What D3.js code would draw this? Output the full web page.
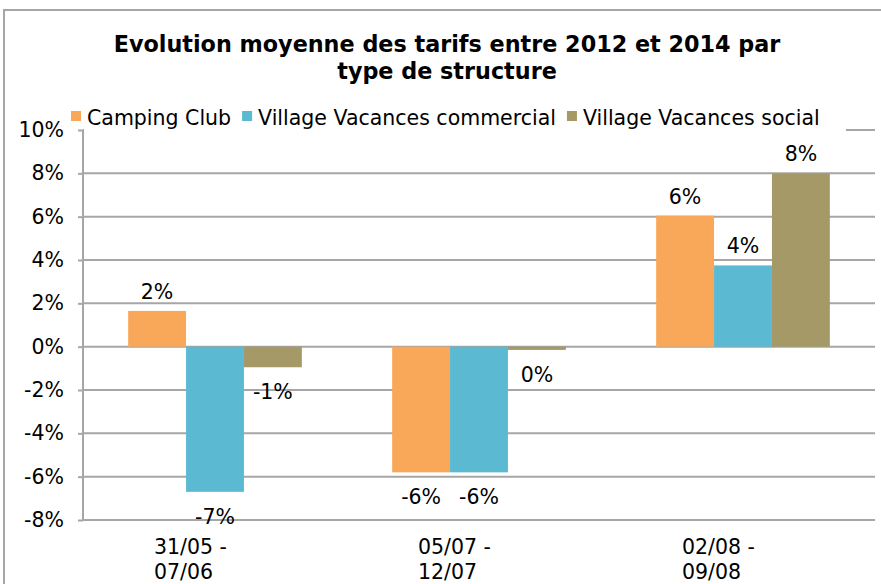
<!DOCTYPE html>
<html>
<head>
<meta charset="utf-8">
<script src="https://cdn.jsdelivr.net/npm/d3@7"></script>
<style>
  body { margin: 0; background: #fff; }
  svg { display: block; font-family: Verdana, "DejaVu Sans", sans-serif; }
</style>
</head>
<body>
<div id="chart"></div>
<script>
// data
const categories = [["31/05 -", "07/06"], ["05/07 -", "12/07"], ["02/08 -", "09/08"]];
const series = ["Camping Club", "Village Vacances commercial", "Village Vacances social"];
const campingClub = [1.65, -5.8, 6.05];
const villageCommercial = [-6.7, -5.8, 3.75];
const villageSocial = [-0.95, -0.15, 8.0];
const colors = ["#F9A85A", "#5BB9D2", "#A59967"];
const yTicks = [-8, -6, -4, -2, 0, 2, 4, 6, 8, 10];
const title = ["Evolution moyenne des tarifs entre 2012 et 2014 par", "type de structure"];

const values = [campingClub, villageCommercial, villageSocial];
const fs = "20.5px";

const W = 881, H = 584;
const svg = d3.select("#chart").append("svg").attr("width", W).attr("height", H);

// outer chart frame (only left/top visible in the crop)
svg.append("path")
  .attr("d", "M4,584V10H881")
  .attr("fill", "none").attr("stroke", "#a6a6a6").attr("stroke-width", 2);

// title
svg.append("text")
  .attr("x", 447).attr("y", 52)
  .attr("text-anchor", "middle")
  .style("font-weight", "bold").style("font-size", "22.3px")
  .selectAll("tspan").data(title).join("tspan")
  .attr("x", 447).attr("dy", (d, i) => i ? 27 : 0)
  .text(d => d);

const x0 = d3.scaleBand()
  .domain(categories.map((d, i) => i))
  .range([83, 875]);
const x1 = d3.scaleBand()
  .domain(series)
  .range([0, x0.bandwidth()])
  .paddingOuter(0.78);
const y = d3.scaleLinear().domain([-8, 10]).range([520, 130]);

// gridlines
svg.append("g").selectAll("line").data(yTicks).join("line")
  .attr("x1", 83).attr("x2", 875)
  .attr("y1", d => y(d)).attr("y2", d => y(d))
  .attr("stroke", "#a6a6a6").attr("stroke-width", 2);

// legend box sits on top of the 10% gridline
svg.append("rect")
  .attr("x", 84).attr("y", 100).attr("width", 762).attr("height", 32)
  .attr("fill", "#fff");

// y axis
const yAxis = svg.append("g")
  .attr("transform", "translate(83,0)")
  .call(d3.axisLeft(y).tickValues(yTicks).tickSize(5).tickPadding(14)
    .tickFormat(d => d + "%"));
yAxis.select(".domain").attr("stroke", "#a6a6a6").attr("stroke-width", 2)
  .attr("d", "M0," + y(10) + "V" + y(-8));
yAxis.selectAll(".tick line").attr("stroke", "#a6a6a6").attr("stroke-width", 2);
yAxis.selectAll(".tick text")
  .style("font-size", fs).attr("fill", "#000")
  .attr("font-family", "Verdana, 'DejaVu Sans', sans-serif");

// bars
const groups = svg.append("g").selectAll("g").data(categories).join("g")
  .attr("transform", (d, i) => "translate(" + x0(i) + ",0)");

groups.each(function (cat, ci) {
  const g = d3.select(this);
  series.forEach((s, si) => {
    const v = values[si][ci];
    g.append("rect")
      .attr("x", x1(s))
      .attr("width", x1.bandwidth())
      .attr("y", y(Math.max(0, v)))
      .attr("height", Math.abs(y(v) - y(0)))
      .attr("fill", colors[si]);
    g.append("text")
      .attr("x", x1(s) + x1.bandwidth() / 2)
      .attr("y", v >= 0 ? y(v) - 12 : y(v) + 32)
      .attr("text-anchor", "middle")
      .style("font-size", fs)
      .text(Math.round(v) === 0 ? "0%" : Math.round(v) + "%");
  });
  // category label, two lines, left aligned
  g.append("text")
    .attr("y", 554)
    .style("font-size", fs)
    .selectAll("tspan").data(cat).join("tspan")
    .attr("x", x0.bandwidth() / 2 - 61)
    .attr("dy", (d, i) => i ? 25 : 0)
    .text(d => d);
});

// legend
let lx = 71;
series.forEach((s, i) => {
  svg.append("rect")
    .attr("x", lx).attr("y", 111).attr("width", 10).attr("height", 10)
    .attr("fill", colors[i]);
  const t = svg.append("text")
    .attr("x", lx + 16).attr("y", 125)
    .style("font-size", fs)
    .text(s);
  lx += 16 + t.node().getComputedTextLength() + 11;
});
</script>
</body>
</html>
